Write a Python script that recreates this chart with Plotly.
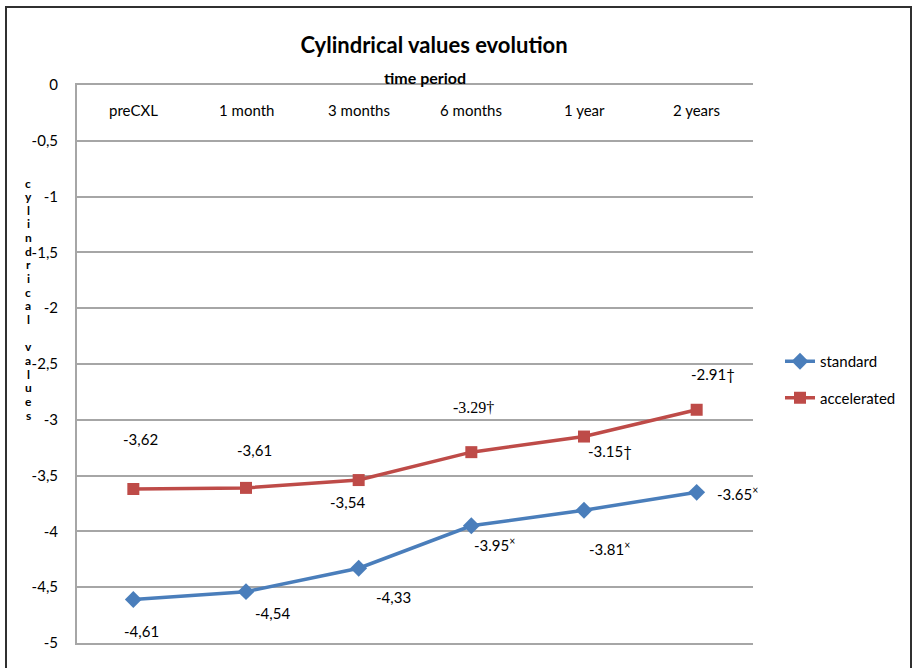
import plotly.graph_objects as go

# Time points and mean cylindrical values per protocol
periods = ["preCXL", "1 month", "3 months", "6 months", "1 year", "2 years"]
standard = [-4.61, -4.54, -4.33, -3.95, -3.81, -3.65]
accelerated = [-3.62, -3.61, -3.54, -3.29, -3.15, -2.91]

# Value axis ticks
y_ticks = [0, -0.5, -1, -1.5, -2, -2.5, -3, -3.5, -4, -4.5, -5]
y_ticktext = ["0", "-0,5", "-1", "-1,5", "-2", "-2,5", "-3", "-3,5", "-4", "-4,5", "-5"]

# Point label significance marks
standard_marks = ["", "", "", "×", "×", "×"]
accelerated_marks = ["", "", "", "†", "†", "†"]

# Label offsets from each point, in pixels (dx right, dy down)
standard_offsets = [(8, 32), (26, 21), (35, 29), (23, 19), (25, 38), (41, 1)]
accelerated_offsets = [(7, -50), (8, -38), (-11, 22), (2, -45), (26, 14), (16, -36)]

BLUE = "#4A7EBB"
RED = "#BE4B48"
GRID = "#A6A6A6"
FONT = "Lato, 'Open Sans', sans-serif"

W, H = 915, 668
L, R, T, B = 77, 162, 85, 25
PW, PH = W - L - R, H - T - B


def px_x(x):
    return (x - L) / PW


def px_y(y):
    return (H - B - y) / PH


def fmt(v, i, mark):
    # the first three time points use a decimal comma, the later ones a point
    s = f"{v:.2f}"
    if i < 3:
        s = s.replace(".", ",")
    if mark == "×":
        return s + "<sup>×</sup>"
    return s + mark


fig = go.Figure()
fig.add_trace(go.Scatter(
    x=periods, y=standard, name="standard", mode="lines+markers",
    line=dict(color=BLUE, width=3.5),
    marker=dict(symbol="diamond", size=13, color=BLUE),
    legendgroup="a",
))
fig.add_trace(go.Scatter(
    x=periods, y=accelerated, name="accelerated", mode="lines+markers",
    line=dict(color=RED, width=3.5),
    marker=dict(symbol="square", size=12, color=RED),
    legendgroup="b",
))

annotations = []
for vals, marks, offs in ((standard, standard_marks, standard_offsets),
                          (accelerated, accelerated_marks, accelerated_offsets)):
    for i, (p, v) in enumerate(zip(periods, vals)):
        dx, dy = offs[i]
        serif = marks[i] == "†" and i == 3
        annotations.append(dict(
            x=p, y=v, xref="x", yref="y", text=fmt(v, i, marks[i]),
            showarrow=False, xshift=dx, yshift=-dy,
            xanchor="center", yanchor="middle",
            font=dict(family="'Liberation Serif', serif" if serif else FONT,
                      size=16 if serif else 15, color="#000000"),
        ))

# category labels sit just under the top (zero) line of the plot
for p in periods:
    annotations.append(dict(
        x=p, y=px_y(110), xref="x", yref="paper", text=p, showarrow=False,
        xanchor="center", yanchor="middle",
        font=dict(family=FONT, size=15, color="#000000"),
    ))

# axis title for the category axis
annotations.append(dict(
    x=px_x(425), y=px_y(78), xref="paper", yref="paper",
    xanchor="center", yanchor="middle",
    text="<b>time period</b>", showarrow=False,
    font=dict(family=FONT, size=16, color="#000000"),
))
# stacked vertical value-axis title, one letter per row
letters = "cylindrical values"
for k, ch in enumerate(letters):
    if ch == " ":
        continue
    annotations.append(dict(
        x=px_x(28), y=px_y(183 + k * 13.65), xref="paper", yref="paper",
        xanchor="center", yanchor="middle", text=f"<b>{ch}</b>", showarrow=False,
        font=dict(family=FONT, size=12, color="#000000"),
    ))

fig.update_layout(
    width=W, height=H,
    margin=dict(l=L, r=R, t=T, b=B),
    paper_bgcolor="white", plot_bgcolor="white",
    title=dict(text="<b>Cylindrical values evolution</b>", x=434 / W, xanchor="center",
               y=1 - 45 / H, yanchor="middle",
               font=dict(family=FONT, size=22, color="#000000")),
    xaxis=dict(
        type="category", range=[-0.5, 5.5],
        showgrid=False, zeroline=False, ticks="", showticklabels=False,
        showline=True, mirror=True, linecolor=GRID, linewidth=2,
    ),
    yaxis=dict(
        range=[-5, 0], tickvals=y_ticks, ticktext=y_ticktext,
        showgrid=True, gridcolor=GRID, gridwidth=2,
        zeroline=False, showline=True, linecolor=GRID, linewidth=2,
        ticks="", ticklabelstandoff=14,
        tickfont=dict(family=FONT, size=15, color="#000000"),
    ),
    legend=dict(
        x=px_x(780), y=px_y(345),
        xanchor="left", yanchor="top", tracegroupgap=14,
        font=dict(family=FONT, size=15, color="#000000"),
        bgcolor="rgba(0,0,0,0)",
    ),
    annotations=annotations,
    shapes=[dict(
        type="rect", xref="paper", yref="paper",
        x0=px_x(6), x1=px_x(911),
        y0=px_y(675), y1=px_y(7),
        line=dict(color="#303030", width=2), layer="below",
    )],
)

fig.write_html("out.html")
